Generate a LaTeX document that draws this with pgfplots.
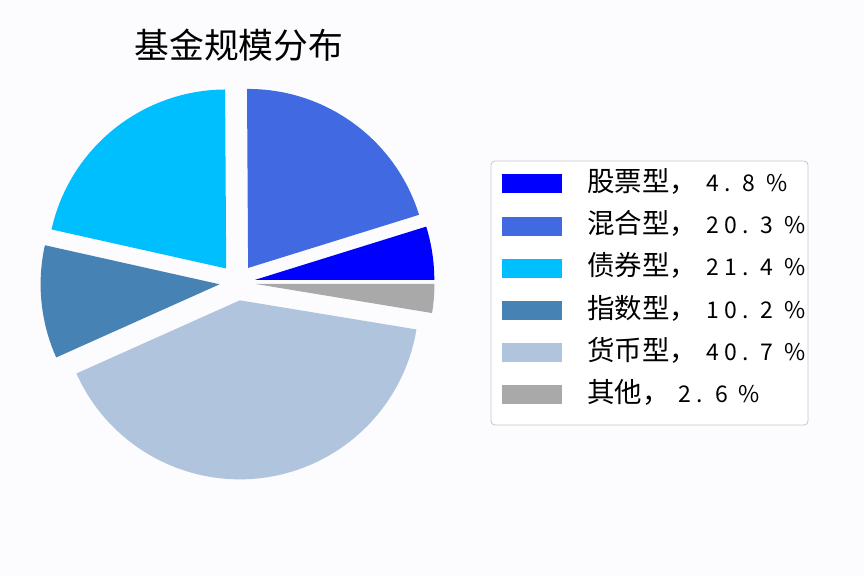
\documentclass[border=0pt]{standalone}
\usepackage{pgfplots}
\pgfplotsset{compat=1.18}
\usepackage{pgfplotstable}
\usepackage{fontspec}
\setmainfont{Noto Sans CJK SC}
\newfontfamily\cjknum[LetterSpace=23]{Noto Sans CJK SC}

\definecolor{bgc}{RGB}{252,251,254}
\definecolor{c1}{RGB}{0,0,255}
\definecolor{c2}{RGB}{65,105,225}
\definecolor{c3}{RGB}{0,191,255}
\definecolor{c4}{RGB}{70,130,180}
\definecolor{c5}{RGB}{176,196,222}
\definecolor{c6}{RGB}{169,169,169}

% wide gap after the decimal point, as in the original labels
\def\splitval#1.#2\relax{#1.\hspace{6pt}#2}

% fund size shares (%)
\pgfplotstableread{
name share col
股票型 4.8 c1
混合型 20.3 c2
债券型 21.4 c3
指数型 10.2 c4
货币型 40.7 c5
其他 2.6 c6
}\fundtable

\begin{document}
\begin{tikzpicture}
\begin{axis}[
    x=0.5pt, y=0.5pt,
    xmin=0, xmax=864, ymin=0, ymax=576,
    hide axis, clip=false,
]
\pgfplotsextra{
  \fill[bgc] (axis cs:0,0) rectangle (axis cs:864,576);
  \node[font=\fontsize{17.4}{20}\selectfont] at (axis cs:239,531) {基金规模分布};
  \draw[black!22, rounded corners=2pt, fill=white] (axis cs:491,151) rectangle (axis cs:808,415);
  \pgfplotstablegetrowsof{\fundtable}
  \pgfmathtruncatemacro\nrows{\pgfplotsretval-1}
  \gdef\startang{0}
  \foreach \i in {0,...,\nrows}{
    \pgfplotstablegetelem{\i}{share}\of\fundtable \let\val\pgfplotsretval
    \pgfplotstablegetelem{\i}{col}\of\fundtable \let\col\pgfplotsretval
    \pgfplotstablegetelem{\i}{name}\of\fundtable \let\nm\pgfplotsretval
    \pgfmathsetmacro\endang{\startang+3.6*\val}
    \pgfmathsetmacro\midang{(\startang+\endang)/2}
    \fill[\col, shift={(axis cs:237.5,293.5)}]
      (\midang:9pt) -- ++(\startang:89.5pt)
      arc[start angle=\startang, end angle=\endang, radius=89.5pt] -- cycle;
    \pgfmathsetmacro\ly{392-42.2*\i}
    \pgfmathsetmacro\lyb{\ly-9.5}
    \pgfmathsetmacro\lyt{\ly+9.5}
    \fill[\col] (axis cs:502,\lyb) rectangle (axis cs:562,\lyt);
    \node[anchor=base west, inner sep=0pt]
      at (axis cs:587,\ly-7.5) {{\fontsize{13.75}{16}\selectfont\nm，}\hspace{4.5pt}{\cjknum\fontsize{11.5}{14}\selectfont\expandafter\splitval\val\relax\ \%}};
    \xdef\startang{\endang}
  }
}
\end{axis}
\end{tikzpicture}
\end{document}
